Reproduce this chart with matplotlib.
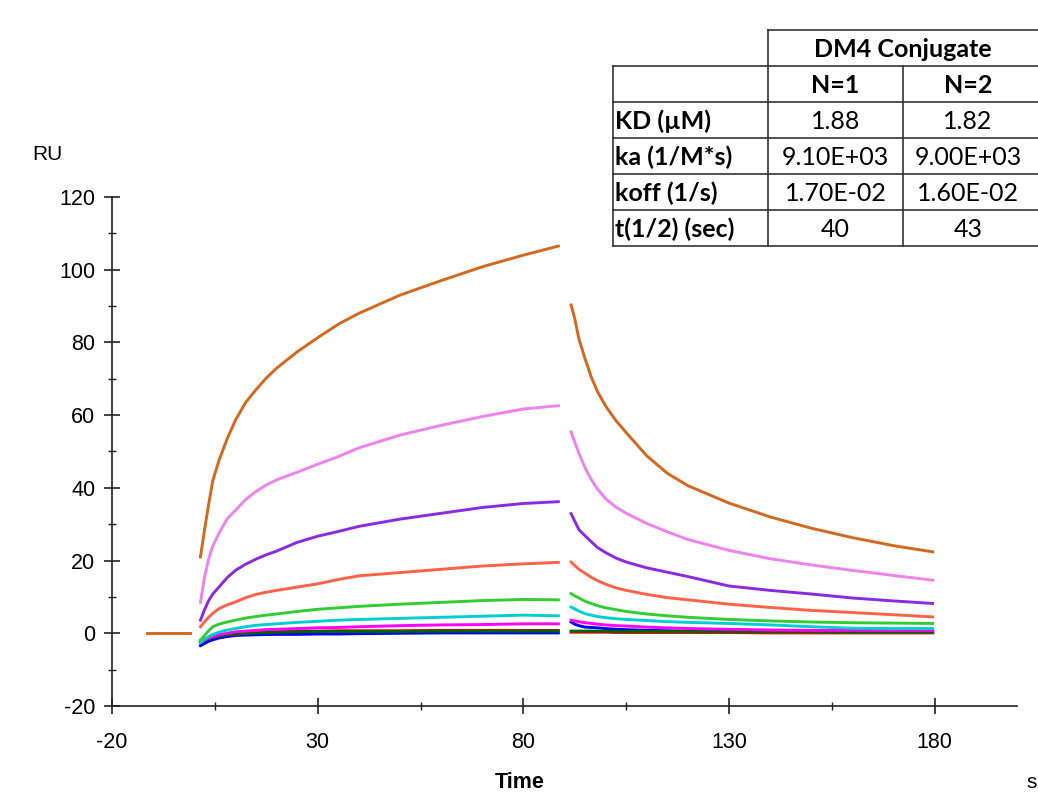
import matplotlib
matplotlib.use('Agg')
import matplotlib.pyplot as plt
from matplotlib.ticker import MultipleLocator

plt.rcParams['font.family'] = ['Liberation Sans', 'DejaVu Sans']
plt.rcParams['axes.unicode_minus'] = False

# --- data ---
base_t = [-11.5, -1.0]
base_ru = [0.0, 0.0]

assoc_t = [1.5, 2.5, 3.5, 4.5, 6, 8, 10, 12.5, 15, 17.5, 20, 25, 30, 35, 40, 50, 60, 70, 80, 88.5]
dissoc_t = [91.6, 92.5, 93.5, 95, 96.5, 98, 100, 102.5, 105, 110, 115, 120, 130, 140, 150, 160, 170, 179.5]

assoc = {
    'blue':      [-3.4, -2.8, -2.2, -1.8, -1.3, -0.9, -0.6, -0.5, -0.4, -0.35, -0.3, -0.3, -0.2, -0.2, -0.1, 0.0, 0.1, 0.1, 0.1, 0.1],
    'red':       [-2.0, -1.7, -1.3, -1.0, -0.7, -0.4, -0.2, 0.0, 0.2, 0.3, 0.4, 0.6, 0.6, 0.7, 0.7, 0.7, 0.8, 0.8, 0.8, 0.8],
    'darkgreen': [-2.5, -2.0, -1.5, -1.1, -0.8, -0.4, -0.2, 0.0, 0.1, 0.2, 0.3, 0.4, 0.5, 0.5, 0.5, 0.5, 0.6, 0.6, 0.6, 0.6],
    'magenta':   [-2.5, -1.8, -1.3, -0.9, -0.4, 0.0, 0.4, 0.6, 0.8, 1.0, 1.1, 1.3, 1.5, 1.6, 1.8, 2.1, 2.3, 2.4, 2.6, 2.6],
    'cyan':      [-2.5, -1.6, -0.9, -0.3, 0.3, 0.9, 1.3, 1.8, 2.2, 2.4, 2.6, 3.0, 3.3, 3.6, 3.8, 4.1, 4.4, 4.7, 5.0, 4.8],
    'green':     [-1.9, -0.6, 0.7, 1.8, 2.5, 3.1, 3.6, 4.2, 4.6, 5.0, 5.3, 6.0, 6.6, 7.0, 7.4, 8.0, 8.5, 9.0, 9.3, 9.2],
    'tomato':    [1.8, 3.2, 4.4, 5.5, 6.8, 7.8, 8.6, 9.8, 10.7, 11.3, 11.8, 12.7, 13.6, 14.8, 15.8, 16.7, 17.6, 18.5, 19.1, 19.5],
    'purple':    [3.6, 6.5, 9.0, 10.8, 12.7, 15.3, 17.3, 19.0, 20.4, 21.6, 22.6, 25.0, 26.7, 28.0, 29.4, 31.4, 33.0, 34.6, 35.7, 36.2],
    'violet':    [8.5, 15.5, 20.5, 24.0, 27.5, 31.5, 33.8, 36.8, 39.0, 40.8, 42.2, 44.3, 46.5, 48.6, 51.0, 54.5, 57.2, 59.6, 61.7, 62.6],
    'orange':    [21.0, 28.5, 35.5, 42.0, 47.5, 53.5, 58.6, 63.5, 67.0, 70.2, 72.9, 77.4, 81.3, 85.0, 88.0, 93.0, 97.0, 100.8, 104.0, 106.5],
}

dissoc = {
    'blue':      [3.1, 2.5, 2.1, 1.7, 1.6, 1.5, 1.3, 1.1, 1.0, 0.8, 0.7, 0.6, 0.5, 0.5, 0.4, 0.4, 0.4, 0.4],
    'red':       [0.3, 0.3, 0.3, 0.3, 0.3, 0.3, 0.3, 0.2, 0.2, 0.2, 0.2, 0.2, 0.2, 0.1, 0.1, 0.1, 0.1, 0.1],
    'darkgreen': [0.6, 0.6, 0.6, 0.6, 0.6, 0.6, 0.6, 0.5, 0.5, 0.5, 0.5, 0.5, 0.4, 0.4, 0.4, 0.3, 0.3, 0.3],
    'magenta':   [3.6, 3.4, 3.2, 2.9, 2.7, 2.5, 2.3, 2.1, 2.0, 1.7, 1.5, 1.3, 1.1, 0.9, 0.8, 0.8, 0.8, 0.8],
    'cyan':      [7.2, 6.7, 6.1, 5.4, 5.0, 4.6, 4.3, 4.0, 3.8, 3.5, 3.2, 3.0, 2.7, 2.3, 1.8, 1.4, 1.3, 1.3],
    'green':     [10.9, 10.3, 9.7, 8.8, 8.2, 7.6, 7.0, 6.5, 6.0, 5.3, 4.8, 4.4, 3.8, 3.4, 3.1, 2.9, 2.8, 2.7],
    'tomato':    [19.6, 18.6, 17.6, 16.5, 15.4, 14.5, 13.5, 12.5, 11.8, 10.7, 9.8, 9.2, 8.0, 7.1, 6.3, 5.7, 5.1, 4.5],
    'purple':    [32.9, 30.8, 28.5, 26.8, 25.2, 23.6, 22.2, 20.7, 19.6, 18.0, 16.8, 15.6, 13.0, 11.8, 10.8, 9.7, 8.9, 8.2],
    'violet':    [55.4, 52.5, 49.5, 45.5, 42.3, 39.7, 37.0, 34.7, 33.0, 30.2, 27.9, 25.8, 22.8, 20.5, 18.8, 17.3, 15.9, 14.6],
    'orange':    [90.3, 86.5, 81.0, 75.5, 70.5, 66.5, 62.5, 58.5, 55.2, 48.8, 44.0, 40.6, 35.8, 32.0, 28.9, 26.3, 24.1, 22.4],
}

colors = {
    'blue': '#0000FF', 'red': '#FF0000', 'darkgreen': '#006400', 'magenta': '#FF00FF',
    'cyan': '#00CED1', 'green': '#32CD32', 'tomato': '#FF6347', 'purple': '#8A2BE2',
    'violet': '#EE82EE', 'orange': '#D2691E',
}

# kinetics table
col_header = 'DM4 Conjugate'
col_names = ['N=1', 'N=2']
row_names = ['KD (\u00b5M)', 'ka (1/M*s)', 'koff (1/s)', 't(1/2) (sec)']
n1_vals = ['1.88', '9.10E+03', '1.70E-02', '40']
n2_vals = ['1.82', '9.00E+03', '1.60E-02', '43']

W, H = 1038, 797
fig = plt.figure(figsize=(W / 100, H / 100), dpi=100)

ax = fig.add_axes([112 / W, (H - 706) / H, (1017 - 112) / W, (706 - 197) / H])
for name in assoc:
    ax.plot(assoc_t, assoc[name], color=colors[name], lw=2.1, solid_joinstyle='round')
    ax.plot(dissoc_t, dissoc[name], color=colors[name], lw=2.1, solid_joinstyle='round')
ax.plot(base_t, base_ru, color=colors['orange'], lw=2.1)

ax.set_xlim(-20, 200)
ax.set_ylim(-20, 120)
ax.set_xticks([-20, 30, 80, 130, 180])
ax.set_xticks([5, 55, 105, 155], minor=True)
ax.yaxis.set_major_locator(MultipleLocator(20))
ax.yaxis.set_minor_locator(MultipleLocator(10))
for s in ['top', 'right']:
    ax.spines[s].set_visible(False)
for s in ['left', 'bottom']:
    ax.spines[s].set_linewidth(1.2)
    ax.spines[s].set_color('#222222')
ax.tick_params(which='major', direction='inout', length=12, width=1.2, labelsize=15.5,
               color='#222222')
ax.tick_params(which='minor', direction='inout', length=6, width=1.0, color='#222222')
ax.tick_params(axis='x', pad=13)
ax.tick_params(axis='y', pad=6)

fig.text(47 / W, 1 - 155 / H, 'RU', fontsize=15, ha='center', va='center')
fig.text(520 / W, 1 - 782 / H, 'Time', fontsize=15.5, fontweight='bold', ha='center', va='center')
fig.text(1032 / W, 1 - 783 / H, 's', fontsize=15, ha='center', va='center')

# table overlay in pixel coordinates
tx = fig.add_axes([0, 0, 1, 1])
tx.set_xlim(0, W)
tx.set_ylim(H, 0)
tx.axis('off')
tx.patch.set_alpha(0)

x0, x1, x2, x3 = 613, 768, 903, 1045
rows_y = [30, 66, 102, 138, 174, 210, 246]
lc = '#333333'
tx.plot([x1, x3], [rows_y[0], rows_y[0]], color=lc, lw=1.2)
for yy in rows_y[1:]:
    tx.plot([x0, x3], [yy, yy], color=lc, lw=1.2)
tx.plot([x0, x0], [rows_y[1], rows_y[-1]], color=lc, lw=1.2)
tx.plot([x1, x1], [rows_y[0], rows_y[-1]], color=lc, lw=1.2)
tx.plot([x2, x2], [rows_y[1], rows_y[-1]], color=lc, lw=1.2)

tfont = ['Lato', 'DejaVu Sans']
fs = 18
tx.text(903, (rows_y[0] + rows_y[1]) / 2 + 1, col_header, family=tfont,
        fontsize=fs, fontweight='bold', ha='center', va='center')
for j, nm in enumerate(col_names):
    cx = (x1 + x2) / 2 if j == 0 else (x2 + 1033) / 2
    tx.text(cx, (rows_y[1] + rows_y[2]) / 2 + 1, nm, family=tfont, fontsize=fs,
            fontweight='bold', ha='center', va='center')
for i, rn in enumerate(row_names):
    cy = (rows_y[i + 2] + rows_y[i + 3]) / 2 + 1
    tx.text(x0 + 2, cy, rn, family=tfont, fontsize=fs, fontweight='bold', ha='left', va='center')
    tx.text((x1 + x2) / 2, cy, n1_vals[i], family=tfont, fontsize=fs, ha='center', va='center')
    tx.text((x2 + 1033) / 2, cy, n2_vals[i], family=tfont, fontsize=fs, ha='center', va='center')

fig.savefig('out.png', dpi=100)
